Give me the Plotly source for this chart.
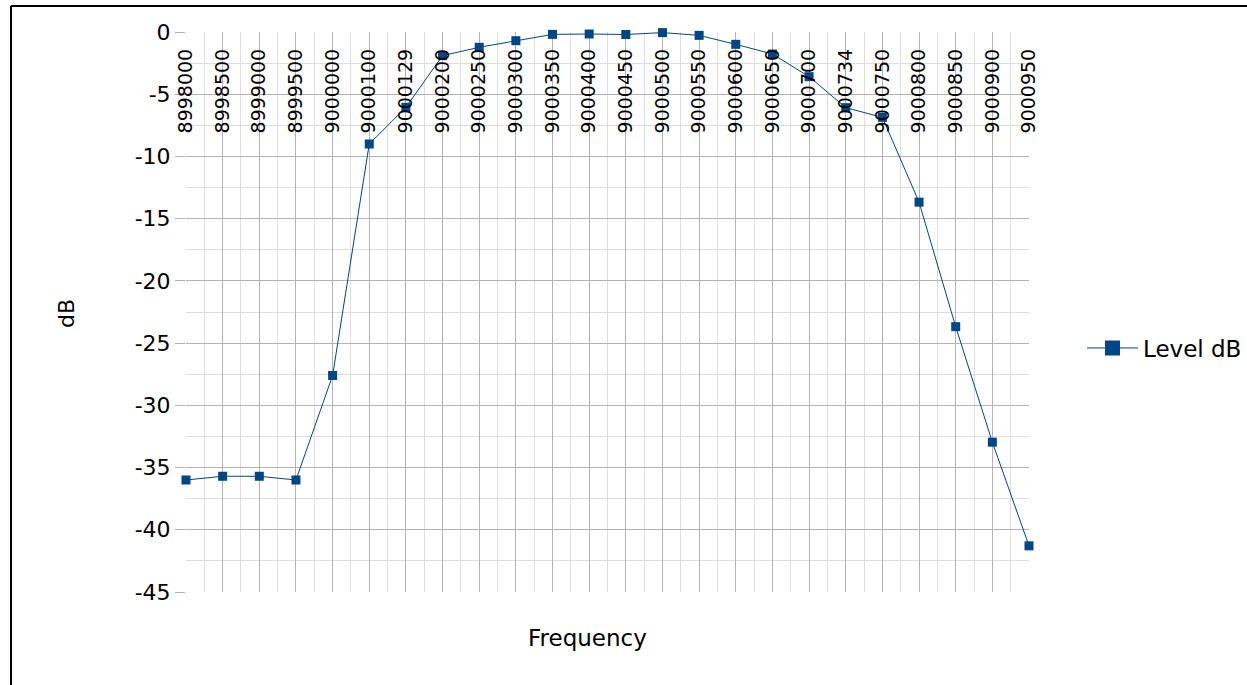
import plotly.graph_objects as go

frequencies = ["8998000", "8998500", "8999000", "8999500", "9000000", "9000100",
               "9000129", "9000200", "9000250", "9000300", "9000350", "9000400",
               "9000450", "9000500", "9000550", "9000600", "9000650", "9000700",
               "9000734", "9000750", "9000800", "9000850", "9000900", "9000950"]
level_db = [-36.0, -35.7, -35.7, -36.0, -27.6, -9.0,
            -6.05, -1.9, -1.23, -0.7, -0.19, -0.16,
            -0.2, -0.05, -0.27, -0.99, -1.77, -3.59,
            -6.08, -6.86, -13.67, -23.68, -32.96, -41.29]
y_ticks = [0, -5, -10, -15, -20, -25, -30, -35, -40, -45]
y_tick_labels = ["0", "-5", "-10", "-15", "-20", "-25", "-30", "-35", "-40", "-45"]

x_idx = list(range(len(frequencies)))

W, H = 1247, 685
L, R, T, B = 186, 1029, 32, 592

FONT = "DejaVu Sans"
COL = "#004586"
MAJ = "#b3b3b3"
MIN = "#dedede"


def px_x(p):
    return (p - L) / (R - L)


def px_y(p):
    return (B - p) / (B - T)


fig = go.Figure()
fig.add_trace(go.Scatter(
    x=x_idx, y=level_db, mode="lines+markers", name="Level dB",
    line=dict(color=COL, width=1),
    marker=dict(symbol="square", size=9, color=COL),
    cliponaxis=False, showlegend=False,
))
# legend entry (larger legend symbol, as in the reference)
fig.add_trace(go.Scatter(
    x=[None], y=[None], mode="lines+markers", name="Level dB",
    line=dict(color=COL, width=1),
    marker=dict(symbol="square", size=15, color=COL),
    showlegend=True,
))
# carrier for the tick-label axis
fig.add_trace(go.Scatter(
    x=x_idx, y=level_db, xaxis="x2", mode="markers",
    marker=dict(size=1, opacity=0), hoverinfo="skip", showlegend=False,
))

fig.update_layout(
    width=W, height=H,
    margin=dict(l=L, r=W - R, t=T, b=H - B, pad=0, autoexpand=False),
    paper_bgcolor="white", plot_bgcolor="white",
    font=dict(family=FONT, size=20, color="black"),
    showlegend=True,
    legend=dict(x=px_x(1082), y=px_y(348), xanchor="left", yanchor="middle",
                font=dict(size=23), bgcolor="rgba(0,0,0,0)", itemwidth=51),
    xaxis=dict(
        range=[0, len(frequencies) - 1],
        tickmode="array", tickvals=x_idx, showticklabels=False, ticks="",
        showgrid=True, gridcolor=MAJ, gridwidth=1,
        minor=dict(dtick=0.5, tick0=0, showgrid=True, gridcolor=MIN, gridwidth=1),
        zeroline=False, showline=False,
    ),
    xaxis2=dict(
        range=[0, len(frequencies) - 1], overlaying="x", anchor="free",
        position=px_y(44), side="bottom", automargin=False,
        tickmode="array", tickvals=x_idx, ticktext=frequencies,
        tickangle=-90, tickfont=dict(size=19, color="black"), ticks="",
        showgrid=False, zeroline=False, showline=False,
    ),
    yaxis=dict(
        range=[-45, 0], tickmode="array", tickvals=y_ticks, ticktext=y_tick_labels,
        tickfont=dict(size=22), ticks="outside", ticklen=10, tickcolor=MAJ,
        showgrid=True, gridcolor=MAJ, gridwidth=1,
        minor=dict(dtick=2.5, tick0=0, showgrid=True, gridcolor=MIN, gridwidth=1),
        zeroline=False, showline=False,
    ),
    annotations=[
        dict(text="dB", xref="paper", yref="paper",
             x=px_x(66), y=px_y(313), textangle=-90,
             xanchor="center", yanchor="middle",
             showarrow=False, font=dict(size=22)),
        dict(text="Frequency", xref="paper", yref="paper",
             x=px_x(587), y=px_y(638), xanchor="center", yanchor="middle",
             showarrow=False, font=dict(size=23)),
    ],
    shapes=[
        dict(type="line", xref="paper", yref="paper",
             x0=px_x(11), x1=px_x(W + 5), y0=px_y(6), y1=px_y(6),
             line=dict(color="black", width=2)),
        dict(type="line", xref="paper", yref="paper",
             x0=px_x(11), x1=px_x(11), y0=px_y(6), y1=px_y(H + 5),
             line=dict(color="black", width=2)),
    ],
)

fig.write_html("out.html", config={"displayModeBar": False},
               post_script="document.body.style.margin='0px';")
